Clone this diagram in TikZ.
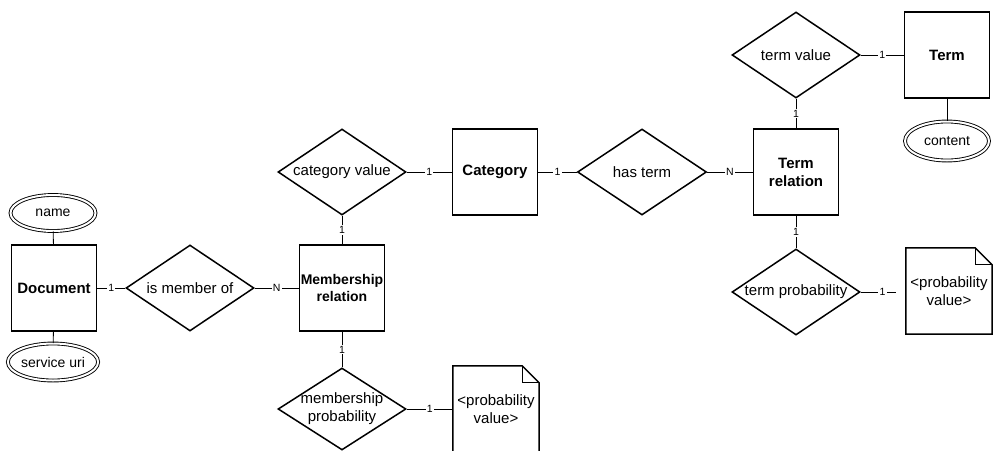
\documentclass[tikz,border=0pt]{standalone}
\usepackage{fontspec}
\setmainfont{Liberation Sans}
\usetikzlibrary{shapes.geometric}
\tikzset{
  entity/.style={draw, line width=1.5pt, minimum width=85pt, minimum height=86pt, inner sep=0pt, align=center, font=\fontsize{15}{18}\selectfont\bfseries},
  rel/.style={diamond, draw, line width=1.5pt, minimum width=128pt, minimum height=86pt, inner sep=0pt},
  reltext/.style={font=\fontsize{15}{18}\selectfont, align=center, inner sep=0pt},
  attr/.style={ellipse, draw, line width=0.9pt, double, double distance=2pt, minimum width=85pt, minimum height=36pt, inner sep=0pt, font=\fontsize{14}{16}\selectfont},
  notebox/.style={minimum width=86pt, minimum height=86pt, inner sep=0pt, align=center, font=\fontsize{15}{18}\selectfont},
  link/.style={line width=0.8pt},
  card/.style={fill=white, inner sep=1.2pt, font=\fontsize{10.5}{12}\selectfont}
}
\newcommand{\drawnote}[1]{%
  \draw[line width=1.5pt] (#1.north west) -- ([xshift=-17pt]#1.north east) -- ([yshift=-17pt]#1.north east) -- (#1.south east) -- (#1.south west) -- cycle;
  \draw[line width=1.2pt] ([xshift=-17pt]#1.north east) -- ([xshift=-17pt,yshift=-17pt]#1.north east) -- ([yshift=-17pt]#1.north east);
}
\begin{document}
\begin{tikzpicture}[x=1pt, y=-1pt]
\useasboundingbox (0,0) rectangle (993,450);
\fill[white] (0,0) rectangle (993,450);
% nodes
\node[entity] (doc) at (54,288) {Document};
\node[attr] (name) at (53,213) {name};
\node[attr, minimum width=89pt, minimum height=37pt] (svc) at (53,362) {service uri};
\node[rel, label={[reltext]center:is member of}] (ism) at (190,288) {};
\node[entity, font=\fontsize{14}{17.5}\selectfont\bfseries] (mem) at (342,288) {Membership\\relation};
\node[rel, label={[reltext]center:category value}] (catval) at (342,172) {};
\node[entity] (cat) at (495,172) {Category};
\node[rel, minimum width=129pt, label={[reltext]center:has term}] (hasterm) at (642,172) {};
\node[entity] (termrel) at (796,172) {Term\\relation};
\node[rel, label={[reltext]center:term value}] (termval) at (796,55) {};
\node[entity] (term) at (947,55) {Term};
\node[attr, minimum width=84pt, minimum height=39pt] (content) at (947,141) {content};
\node[rel, label={[reltext]center:term probability}] (termprob) at (796,292) {};
\node[notebox] (pv2) at (949,291) {<probability\\value>};
\drawnote{pv2}
\node[rel, minimum height=82pt, label={[reltext]center:membership\\probability}] (memprob) at (342,409) {};
\node[notebox] (pv1) at (496,409) {<probability\\value>};
\drawnote{pv1}
\coordinate (pv2end) at (896,292);
% connectors
\draw[link] (doc) -- (name);
\draw[link] (doc) -- (svc);
\draw[link] (doc) -- node[card]{1} (ism);
\draw[link] (ism) -- node[card]{N} (mem);
\draw[link] (mem) -- node[card]{1} (catval);
\draw[link] (catval) -- node[card]{1} (cat);
\draw[link] (cat) -- node[card]{1} (hasterm);
\draw[link] (hasterm) -- node[card]{N} (termrel);
\draw[link] (termrel) -- node[card]{1} (termval);
\draw[link] (termval) -- node[card]{1} (term);
\draw[link] (term) -- (content);
\draw[link] (termrel) -- node[card]{1} (termprob);
\draw[link] (termprob.east) -- node[card, pos=0.62]{1} (pv2end);
\draw[link] (mem) -- node[card]{1} (memprob);
\draw[link] (memprob) -- node[card]{1} (pv1);
\end{tikzpicture}
\end{document}
